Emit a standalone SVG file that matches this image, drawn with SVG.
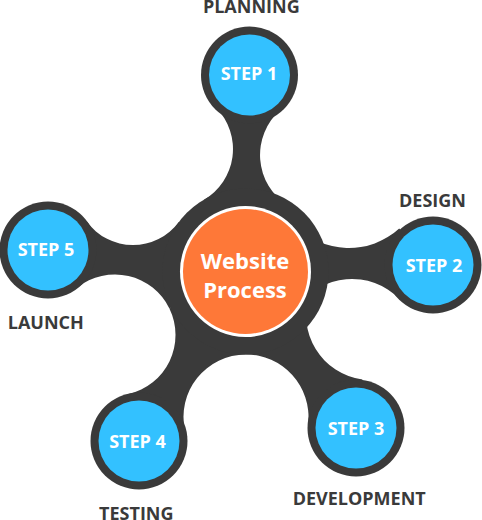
<svg xmlns="http://www.w3.org/2000/svg" width="482" height="520" viewBox="0 0 482 520">
<style>
.dark{fill:#3a3a3a}
.blue{fill:#33c1ff}
.st{font-family:"Open Sans","DejaVu Sans",sans-serif;font-weight:700;font-size:18px;fill:#ffffff;text-anchor:middle}
.lb{font-family:"Open Sans","DejaVu Sans",sans-serif;font-weight:700;font-size:18px;fill:#3a3a3a;text-anchor:middle}
.hub{font-family:"Open Sans","DejaVu Sans",sans-serif;font-weight:700;font-size:22px;fill:#ffffff;text-anchor:middle}
</style>
<rect width="482" height="520" fill="#ffffff"/>
<g id="connectors" class="dark">
<path d="M245.5 271.5 L203.7 200 A59 59 0 0 0 216.1 107.7 L249.5 75 L280.3 110 A60 60 0 0 0 287.7 205.5 Z"/>
<path d="M245.5 271.5 L295.1 224.7 A74 74 0 0 0 399.2 228.4 L433 265 L399 298.6 A66 66 0 0 0 297.7 307.5 Z"/>
<path d="M245.5 271.5 L309.6 293.7 A65 65 0 0 0 362.4 379.4 L356 428 L308.2 423.2 A62.5 62.5 0 0 0 245.8 354.5 Z"/>
<path d="M245.5 271.5 L245.8 354.5 A62.5 62.5 0 0 0 185 430.7 L139 441 L128.4 394 A60.5 60.5 0 0 0 169.4 308.5 Z"/>
<path d="M245.5 271.5 L169.4 308.5 A60.5 60.5 0 0 0 77.5 287.5 L48 250 L86.9 221.6 A57 57 0 0 0 178.8 222 Z"/>
</g>
<g id="hub">
<circle class="dark" cx="245.5" cy="271.5" r="83"/>
<circle cx="245.5" cy="271.5" r="65.5" fill="#ffffff"/>
<circle cx="245.5" cy="271.5" r="62.5" fill="#fe7838"/>
<text class="hub" x="245" y="269">Website</text>
<text class="hub" x="245" y="298">Process</text>
</g>
<g id="step1">
<circle class="dark" cx="249.5" cy="75" r="48.5"/>
<circle class="blue" cx="249.5" cy="75" r="40.5"/>
<text class="st" x="249" y="80">STEP 1</text>
<text class="lb" x="251.3" y="13">PLANNING</text>
</g>
<g id="step2">
<circle class="dark" cx="433" cy="265" r="48.5"/>
<circle class="blue" cx="433" cy="265" r="40.5"/>
<text class="st" x="434" y="271.5">STEP 2</text>
<text class="lb" x="432.5" y="207">DESIGN</text>
</g>
<g id="step3">
<circle class="dark" cx="356" cy="428" r="48.5"/>
<circle class="blue" cx="356" cy="428" r="40.5"/>
<text class="st" x="356" y="435">STEP 3</text>
<text class="lb" x="359.2" y="505">DEVELOPMENT</text>
</g>
<g id="step4">
<circle class="dark" cx="139" cy="441" r="48.5"/>
<circle class="blue" cx="139" cy="441" r="40.5"/>
<text class="st" x="137.5" y="447.5">STEP 4</text>
<text class="lb" x="136.3" y="520">TESTING</text>
</g>
<g id="step5">
<circle class="dark" cx="48" cy="250" r="48.5"/>
<circle class="blue" cx="48" cy="250" r="40.5"/>
<text class="st" x="46" y="256">STEP 5</text>
<text class="lb" x="45.8" y="329">LAUNCH</text>
</g>
</svg>
